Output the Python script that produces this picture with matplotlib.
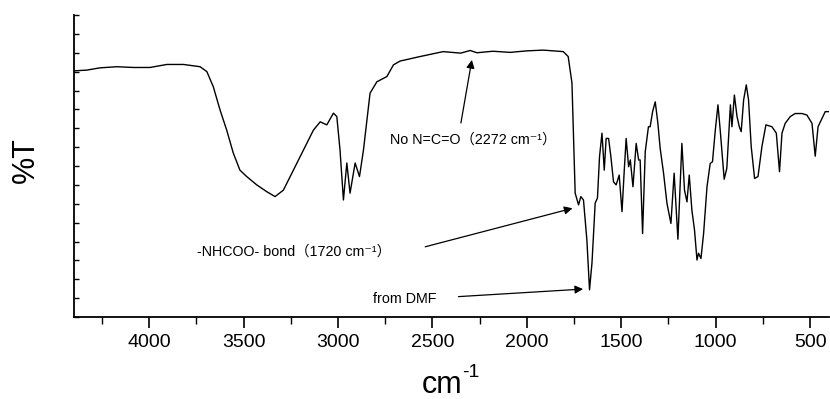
import numpy as np
import matplotlib
matplotlib.use("Agg")
import matplotlib.pyplot as plt
from matplotlib.ticker import MultipleLocator, NullFormatter

plt.rcParams["font.family"] = ["Liberation Sans", "Noto Sans CJK SC", "DejaVu Sans"]

# FTIR trace: wavenumber (cm-1) and transmittance (arb. %T)
wavenumber = [4400, 4330, 4260, 4171, 4083, 3995, 3906, 3818, 3730, 3694,
              3660, 3624, 3589, 3554, 3519, 3483, 3430, 3377, 3333, 3289,
              3236, 3183, 3130, 3094, 3059, 3024, 3006, 2989, 2971, 2953,
              2936, 2909, 2886, 2865, 2830, 2794, 2741, 2706, 2671, 2565,
              2443, 2350, 2300, 2264, 2180, 2088, 2000, 1913, 1807, 1781,
              1761, 1753, 1744, 1726, 1714, 1700, 1682, 1668, 1655, 1638,
              1626, 1615, 1602, 1590, 1580, 1567, 1555, 1541, 1527, 1511,
              1496, 1484, 1474, 1461, 1452, 1438, 1421, 1408, 1400, 1387,
              1373, 1356, 1347, 1334, 1320, 1306, 1294, 1276, 1258, 1237,
              1220, 1200, 1179, 1165, 1152, 1140, 1126, 1112, 1099, 1091,
              1078, 1064, 1046, 1029, 1017, 1002, 988, 976, 955, 941,
              922, 914, 901, 887, 875, 865, 852, 838, 826, 812,
              794, 776, 755, 734, 702, 679, 662, 649, 632, 605,
              579, 543, 517, 490, 473, 458, 437, 420, 402]
transmittance = [65.2, 65.4, 66.0, 66.3, 66.1, 66.1, 66.9, 66.9, 66.3, 65.0,
                 61.0, 54.8, 49.5, 43.4, 38.9, 37.2, 35.0, 33.2, 31.9, 33.6,
                 38.9, 44.2, 49.5, 51.7, 50.9, 54.0, 53.1, 44.2, 31.0, 40.8,
                 32.8, 40.8, 37.2, 44.2, 59.3, 62.3, 63.7, 66.8, 67.8, 69.0,
                 70.3, 69.9, 70.6, 70.0, 70.4, 70.1, 70.5, 70.7, 70.3, 69.0,
                 62.0, 48.7, 32.8, 29.7, 31.9, 31.0, 20.4, 7.2, 14.3, 30.2,
                 31.5, 42.5, 48.7, 38.9, 47.3, 47.3, 42.5, 35.8, 35.0, 37.6,
                 27.9, 38.9, 47.3, 39.8, 41.6, 34.5, 46.0, 41.6, 41.6, 22.1,
                 43.8, 50.4, 50.4, 54.4, 57.0, 51.3, 44.7, 38.1, 30.1, 24.8,
                 38.1, 20.6, 46.0, 33.6, 30.5, 37.6, 28.3, 23.0, 15.1, 16.9,
                 15.5, 22.1, 34.5, 40.7, 41.1, 49.5, 56.2, 49.5, 36.5, 39.4,
                 56.2, 50.4, 58.8, 53.1, 50.4, 49.1, 57.5, 61.5, 57.5, 45.2,
                 36.7, 37.2, 45.2, 50.9, 50.4, 48.7, 38.5, 48.7, 51.3, 53.1,
                 53.9, 53.9, 53.5, 51.3, 42.6, 50.4, 52.6, 54.4, 54.4]

# annotations: (text, text position, arrow tip, arrow tail)
notes = [
    ("No N=C=O\uff082272 cm\u207b\u00b9\uff09", (2724, 46.9), (2291, 68.1), (2349, 51.4)),
    ("-NHCOO- bond\uff081720 cm\u207b\u00b9\uff09", (3746, 17.3), (1758, 28.8), (2538, 18.6)),
    ("from DMF", (2814, 4.8), (1702, 7.4), (2362, 5.4)),
]

fig = plt.figure(figsize=(8.30, 3.99), dpi=100)
ax = fig.add_axes([0.0886, 0.2055, 0.9102, 0.7569])

ax.plot(wavenumber, transmittance, color="black", lw=1.0)

for txt, (tx, ty), tip, tail in notes:
    ax.text(tx, ty, txt, fontsize=10.3, ha="left", va="center")
    ax.annotate("", xy=tip, xytext=tail,
                arrowprops=dict(arrowstyle="-|>", color="black", lw=0.9,
                                mutation_scale=12, shrinkA=0, shrinkB=0))

ax.set_xlim(4400, 400)
ax.set_ylim(0, 80)
ax.spines["top"].set_visible(False)
ax.spines["right"].set_visible(False)
for s in ("left", "bottom"):
    ax.spines[s].set_linewidth(1.3)

ax.xaxis.set_major_locator(MultipleLocator(500))
ax.xaxis.set_minor_locator(MultipleLocator(250))
ax.yaxis.set_major_locator(MultipleLocator(5))
ax.yaxis.set_major_formatter(NullFormatter())
ax.tick_params(axis="x", which="major", direction="out", length=8, width=1.2,
               labelsize=14, pad=4)
ax.tick_params(axis="x", which="minor", direction="out", length=5, width=1.0)
ax.tick_params(axis="y", which="major", direction="in", length=3.5, width=1.0)

# axis labels; the -1 exponent is a separate smaller text hung off "cm"
xlab = ax.set_xlabel("cm", fontsize=22)
ax.xaxis.set_label_coords(0.488, -0.175)
ax.annotate("-1", xy=(1.0, 0.62), xycoords=xlab, fontsize=14,
            ha="left", va="bottom", annotation_clip=False)
ax.set_ylabel("%T", fontsize=22)
ax.yaxis.set_label_coords(-0.043, 0.52)

fig.savefig("out.png", dpi=100)
